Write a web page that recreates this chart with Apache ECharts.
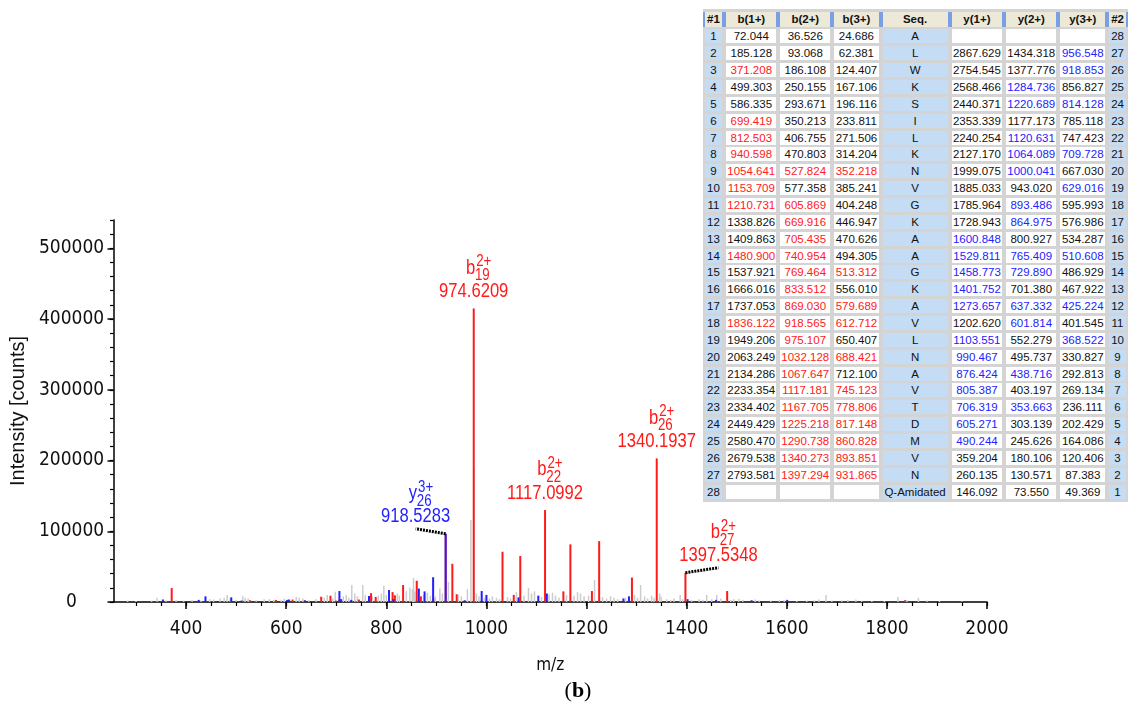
<!DOCTYPE html>
<html>
<head>
<meta charset="utf-8">
<script src="https://cdn.jsdelivr.net/npm/echarts@6.0.0/dist/echarts.min.js"></script>
<style>
  html, body { margin: 0; padding: 0; background: #fff; }
  #wrap { position: relative; width: 1128px; height: 718px; overflow: hidden; }
  #chart { position: absolute; left: 0; top: 0; width: 1128px; height: 718px; }
  #tbl {
    position: absolute; left: 703px; top: 9px; width: 425px; height: 493px;
    box-sizing: border-box; padding: 3px 0 0 1.7px; background: #d4d4d4;
    display: grid;
    grid-template-columns: 17.6px 50px 50px 44.3px 65px 50.7px 50px 45px 16.6px;
    grid-template-rows: 14.5px repeat(28, 14px);
    column-gap: 4px; row-gap: 2.87px;
    font-family: 'Liberation Sans', Arial, sans-serif; font-size: 11.5px; color: #111;
  }
  #tbl div { display: flex; align-items: center; justify-content: center; white-space: nowrap; overflow: hidden; line-height: 14px; }
  #tbl .h { background: #ece9d8; font-weight: bold; box-shadow: -2px 0 0 #7a9fe2, 2px 0 0 #7a9fe2; }
  #tbl .w { background: #fff; }
  #tbl .lb { background: #c4dcf4; }
  #tbl .r { color: #ff2020; }
  #tbl .bl { color: #2222ff; }
</style>
</head>
<body>
<div id="wrap">
  <div id="chart"></div>
  <div id="tbl"></div>
</div>
<script>
// ---- spectrum peaks [m/z, intensity] ----
// unassigned peaks (grey)
const greyPeaks = [
  [283, 2000], [300, 1500], [331, 2000], [342, 6000], [360, 2500], [380, 3000], [395, 2000],
  [412, 3000], [430, 2000], [447, 4000], [455, 3500], [468, 5000], [476, 6000], [482, 10000],
  [488, 5000], [500, 3000], [513, 8000], [518, 6000], [524, 5000], [540, 3000], [556, 4000],
  [566, 4000], [575, 3000], [590, 2500], [596, 5000], [620, 7000], [626, 6000], [633, 5000],
  [645, 3000], [660, 4000], [676, 6000], [682, 10000], [693, 5000], [698, 14500], [714, 8000],
  [720, 10000], [725, 6000], [731, 24000], [737, 12000], [742, 8000], [753, 24000], [758, 10000],
  [772, 8000], [784, 9000], [790, 12000], [795, 23000], [800, 10000], [822, 12000], [826, 9000],
  [840, 15000], [847, 20000], [852, 18000], [854.4, 34000], [857, 15000], [875, 10000],
  [882, 13000], [888, 9000], [898, 8000], [907, 19000], [912, 12000], [924, 28600], [944, 10000],
  [950, 8000], [962, 18000], [969, 116000], [975.1, 188000], [980, 12000], [985, 8000],
  [996, 6000], [1006, 5000], [1012, 8000], [1020, 6000], [1026, 4000], [1042, 7000], [1048, 5000],
  [1060, 14000], [1075, 9000], [1084, 20000], [1090, 12000], [1096, 15000], [1110, 7000],
  [1125, 11000], [1132, 13000], [1138, 9000], [1145, 6000], [1160, 10000], [1175, 9000],
  [1182, 14000], [1188, 12000], [1195, 8000], [1204, 9000], [1216, 31000], [1232, 7000],
  [1240, 5000], [1248, 8000], [1255, 6000], [1262, 4000], [1278, 6000], [1296, 10000],
  [1302, 6000], [1308, 24000], [1316, 8000], [1322, 5000], [1330, 9000], [1335, 6000],
  [1346, 12000], [1349, 7500], [1360, 4000], [1368, 3000], [1375, 5000], [1387, 10000],
  [1392, 4000], [1410, 3000], [1425, 4000], [1432, 3000], [1440, 10000], [1450, 4000],
  [1460, 10000], [1468, 5000], [1488, 3000], [1494, 4000], [1504, 4500], [1512, 3000],
  [1537, 3500], [1545, 2000], [1568, 2000], [1585, 3000], [1595, 2500], [1620, 1500],
  [1640, 2000], [1655, 2500], [1664, 3500], [1678.5, 10000], [1690, 2000], [1710, 2500],
  [1722, 3000], [1738, 3500], [1750, 2000], [1770, 1500], [1795, 1500], [1822, 7000],
  [1840, 3000], [1863, 6000], [1880, 2000], [1905, 1500], [1950, 1200]
];
// b-ion matches (red)
const bPeaks = [
  [352.2, 1500], [371.2, 19700], [513.3, 1500], [527.8, 2500], [579.7, 3000], [605.9, 2500],
  [612.7, 3500], [669.9, 7500], [688.4, 8900], [699.4, 2000], [705.4, 2500], [745.1, 3500],
  [769.5, 12500], [778.8, 7000], [812.5, 14000], [817.1, 9500], [833.5, 24000], [860.8, 30000],
  [869.0, 8000], [893.9, 5000], [918.6, 96000], [931.9, 54000], [940.6, 11000], [1032.1, 71000],
  [1054.6, 10000], [1067.6, 65000], [1153.7, 15000], [1167.7, 81500], [1210.7, 15500],
  [1225.2, 86000], [1290.7, 34500], [1480.9, 15500], [1836.1, 2500]
];
// y-ion matches (blue)
const yPeaks = [
  [353.7, 3500], [425.2, 3000], [438.7, 8000], [490.2, 6600], [510.6, 2000], [601.8, 3000],
  [605.3, 3500], [637.3, 2500], [706.3, 15500], [709.7, 4000], [729.9, 3000], [765.4, 8500],
  [805.4, 17000], [814.1, 4000], [865.0, 19000], [876.4, 15000], [893.5, 35000], [956.5, 2500],
  [990.5, 15500], [1000.0, 10000], [1064.1, 6500], [1103.6, 9000], [1120.6, 12000],
  [1273.7, 5000], [1284.7, 8000], [1401.8, 4000], [1458.8, 3000], [1529.8, 2500], [1600.8, 3000]
];
// annotated peaks
const annoMz = [974.6209, 1117.0992, 1340.1937, 1397.5348, 918.5283];
const annoInt = [415000, 130000, 203000, 41400, 96500];
const annoIon = ['b', 'b', 'b', 'b', 'y'];
const annoPos = ['19', '22', '26', '27', '26'];
const annoCharge = ['2+', '2+', '2+', '2+', '3+'];

// ---- axes ----
const xMajor = [400, 600, 800, 1000, 1200, 1400, 1600, 1800, 2000];
const xMinor = [300, 350, 400, 450, 500, 550, 600, 650, 700, 750, 800, 850, 900, 950, 1000, 1050,
  1100, 1150, 1200, 1250, 1300, 1350, 1400, 1450, 1500, 1550, 1600, 1650, 1700, 1750, 1800, 1850, 1900, 1950, 2000];
const yMajor = [0, 100000, 200000, 300000, 400000, 500000];
const yMinor = [0, 20000, 40000, 60000, 80000, 100000, 120000, 140000, 160000, 180000, 200000, 220000,
  240000, 260000, 280000, 300000, 320000, 340000, 360000, 380000, 400000, 420000, 440000, 460000,
  480000, 500000, 520000, 540000];

// ---- fragment table ----
const bIon1 = ['72.044', '185.128', '371.208', '499.303', '586.335', '699.419', '812.503', '940.598', '1054.641', '1153.709',
  '1210.731', '1338.826', '1409.863', '1480.900', '1537.921', '1666.016', '1737.053', '1836.122', '1949.206', '2063.249',
  '2134.286', '2233.354', '2334.402', '2449.429', '2580.470', '2679.538', '2793.581', ''];
const bIon2 = ['36.526', '93.068', '186.108', '250.155', '293.671', '350.213', '406.755', '470.803', '527.824', '577.358',
  '605.869', '669.916', '705.435', '740.954', '769.464', '833.512', '869.030', '918.565', '975.107', '1032.128',
  '1067.647', '1117.181', '1167.705', '1225.218', '1290.738', '1340.273', '1397.294', ''];
const bIon3 = ['24.686', '62.381', '124.407', '167.106', '196.116', '233.811', '271.506', '314.204', '352.218', '385.241',
  '404.248', '446.947', '470.626', '494.305', '513.312', '556.010', '579.689', '612.712', '650.407', '688.421',
  '712.100', '745.123', '778.806', '817.148', '860.828', '893.851', '931.865', ''];
const seqRes = ['A', 'L', 'W', 'K', 'S', 'I', 'L', 'K', 'N', 'V', 'G', 'K', 'A', 'A', 'G', 'K', 'A', 'V', 'L', 'N',
  'A', 'V', 'T', 'D', 'M', 'V', 'N', 'Q-Amidated'];
const yIon1 = ['', '2867.629', '2754.545', '2568.466', '2440.371', '2353.339', '2240.254', '2127.170', '1999.075', '1885.033',
  '1785.964', '1728.943', '1600.848', '1529.811', '1458.773', '1401.752', '1273.657', '1202.620', '1103.551', '990.467',
  '876.424', '805.387', '706.319', '605.271', '490.244', '359.204', '260.135', '146.092'];
const yIon2 = ['', '1434.318', '1377.776', '1284.736', '1220.689', '1177.173', '1120.631', '1064.089', '1000.041', '943.020',
  '893.486', '864.975', '800.927', '765.409', '729.890', '701.380', '637.332', '601.814', '552.279', '495.737',
  '438.716', '403.197', '353.663', '303.139', '245.626', '180.106', '130.571', '73.550'];
const yIon3 = ['', '956.548', '918.853', '856.827', '814.128', '785.118', '747.423', '709.728', '667.030', '629.016',
  '595.993', '576.986', '534.287', '510.608', '486.929', '467.922', '425.224', '401.545', '368.522', '330.827',
  '292.813', '269.134', '236.111', '202.429', '164.086', '120.406', '87.383', '49.369'];
// matched rows (1-based)
const b1Hit = [3, 6, 7, 8, 9, 10, 11, 14, 18];
const b2Hit = [9, 11, 12, 13, 14, 15, 16, 17, 18, 19, 20, 21, 22, 23, 24, 25, 26, 27];
const b3Hit = [9, 15, 17, 18, 20, 22, 23, 24, 25, 26, 27];
const y1Hit = [13, 14, 15, 16, 17, 19, 20, 21, 22, 23, 24, 25];
const y2Hit = [4, 5, 7, 8, 9, 11, 12, 14, 15, 17, 18, 21, 23];
const y3Hit = [2, 3, 5, 8, 10, 14, 17, 19];
const tblHeader = ['#1', 'b(1+)', 'b(2+)', 'b(3+)', 'Seq.', 'y(1+)', 'y(2+)', 'y(3+)', '#2'];

// build table
const tbl = document.getElementById('tbl');
function cell(text, cls) {
  const d = document.createElement('div');
  d.className = cls;
  d.textContent = text;
  tbl.appendChild(d);
}
tblHeader.forEach(h => cell(h, 'h'));
for (let i = 0; i < 28; i++) {
  const row = i + 1;
  cell(String(row), 'lb');
  cell(bIon1[i], 'w' + (b1Hit.includes(row) ? ' r' : ''));
  cell(bIon2[i], 'w' + (b2Hit.includes(row) ? ' r' : ''));
  cell(bIon3[i], 'w' + (b3Hit.includes(row) ? ' r' : ''));
  cell(seqRes[i], 'lb');
  cell(yIon1[i], 'w' + (y1Hit.includes(row) ? ' bl' : ''));
  cell(yIon2[i], 'w' + (y2Hit.includes(row) ? ' bl' : ''));
  cell(yIon3[i], 'w' + (y3Hit.includes(row) ? ' bl' : ''));
  cell(String(28 - i), 'lb');
}

// ---- chart ----
const RED = '#ff1a1a', BLUE = '#1f1fff', GREY = '#cccccc';
const axisFont = "'Liberation Sans Narrow', 'Arial Narrow', 'DejaVu Sans Condensed', 'Liberation Sans', sans-serif";
const labelFont = "'Liberation Sans', Arial, sans-serif";
// label leader offsets in px (others sit right above the peak)
const leaderOffset = { 3: [33, -5], 4: [-30, -5] };

function stick(color, width) {
  return function (params, api) {
    const p0 = api.coord([api.value(0), 0]);
    const p1 = api.coord([api.value(0), api.value(1)]);
    return { type: 'line', shape: { x1: p0[0], y1: p0[1], x2: p1[0], y2: p1[1] },
      style: { stroke: color, lineWidth: width } };
  };
}

function annoItem(params, api) {
  const i = params.dataIndex;
  const color = annoIon[i] === 'y' ? BLUE : RED;
  const p0 = api.coord([api.value(0), 0]);
  const p1 = api.coord([api.value(0), api.value(1)]);
  const children = [{ type: 'line', shape: { x1: p0[0], y1: p0[1], x2: p1[0], y2: p1[1] },
    style: { stroke: color, lineWidth: 2 } }];
  let cx = p1[0], nb = p1[1] - 10;
  const off = leaderOffset[i];
  if (off) {
    children.push({ type: 'line', shape: { x1: p1[0], y1: p1[1], x2: p1[0] + off[0], y2: p1[1] + off[1] },
      style: { stroke: '#000', lineWidth: 3, lineDash: [2, 1] } });
    cx = p1[0] + off[0];
    nb = p1[1] + off[1] - 5;
  }
  const sx = 0.83;
  children.push({
    type: 'group', x: cx, y: nb, scaleX: sx,
    children: [
      { type: 'text', style: { text: annoMz[i].toFixed(4), x: 0, y: -7, align: 'center', verticalAlign: 'middle',
        fontSize: 20, fontFamily: labelFont, fill: color } },
      { type: 'text', style: { text: annoIon[i], x: 1.5 / sx, y: -30.4, align: 'right', verticalAlign: 'middle',
        fontSize: 20, fontFamily: labelFont, fill: color } },
      { type: 'text', style: { text: annoCharge[i], x: 2.4 / sx, y: -36.5, align: 'left', verticalAlign: 'middle',
        fontSize: 16, fontFamily: labelFont, fill: color } },
      { type: 'text', style: { text: annoPos[i], x: 1.2 / sx, y: -22.5, align: 'left', verticalAlign: 'middle',
        fontSize: 16, fontFamily: labelFont, fill: color } }
    ]
  });
  return { type: 'group', children: children };
}

const plain = v => String(v);

const chart = echarts.init(document.getElementById('chart'), null, { renderer: 'canvas' });
chart.setOption({
  animation: false,
  backgroundColor: '#fff',
  grid: { left: 108, right: 141, top: 220, bottom: 116 },
  xAxis: [
    {
      type: 'value', min: 255, max: 2000, position: 'bottom',
      name: 'm/z', nameLocation: 'middle', nameGap: 55,
      nameTextStyle: { fontSize: 17, fontFamily: axisFont, color: '#111' },
      axisLine: { show: true, lineStyle: { color: '#000', width: 1.5 } },
      axisTick: { show: true, length: 7, customValues: xMajor, lineStyle: { color: '#000', width: 1.5 } },
      axisLabel: { customValues: xMajor, formatter: plain, margin: 18, fontSize: 19, fontFamily: axisFont, color: '#111' },
      splitLine: { show: false }
    },
    {
      type: 'value', min: 255, max: 2000, position: 'bottom', offset: 0,
      axisLine: { show: false },
      axisTick: { show: true, length: 4, customValues: xMinor, lineStyle: { color: '#000', width: 1.2 } },
      axisLabel: { show: false },
      splitLine: { show: false }
    }
  ],
  yAxis: [
    {
      type: 'value', min: 0, max: 540000, position: 'left',
      name: 'Intensity [counts]', nameLocation: 'middle', nameGap: 74,
      nameTextStyle: { fontSize: 20, fontFamily: labelFont, color: '#111' },
      axisLine: { show: true, lineStyle: { color: '#000', width: 1.5 } },
      axisTick: { show: true, length: 6, customValues: yMajor, lineStyle: { color: '#000', width: 1.5 } },
      axisLabel: { customValues: yMajor, formatter: plain, margin: 42, align: 'center', fontSize: 19,
        fontFamily: axisFont, color: '#111' },
      splitLine: { show: false }
    },
    {
      type: 'value', min: 0, max: 540000, position: 'left', offset: 0,
      axisLine: { show: false },
      axisTick: { show: true, length: 3.5, customValues: yMinor, lineStyle: { color: '#000', width: 1.2 } },
      axisLabel: { show: false },
      splitLine: { show: false }
    }
  ],
  graphic: [
    { type: 'text', x: 578, y: 691,
      style: { text: '({bb|b})', align: 'center', verticalAlign: 'middle', fontSize: 22,
        fontFamily: "'Liberation Serif', serif", fill: '#000',
        rich: { bb: { fontWeight: 'bold', fontSize: 22, fontFamily: "'Liberation Serif', serif" } } } }
  ],
  series: [
    { type: 'custom', name: 'unassigned', renderItem: stick(GREY, 1.5), data: greyPeaks, clip: true, z: 1 },
    { type: 'custom', name: 'b ions', renderItem: stick(RED, 2), data: bPeaks, clip: true, z: 2 },
    { type: 'custom', name: 'y ions', renderItem: stick(BLUE, 2), data: yPeaks, clip: true, z: 3 },
    { type: 'custom', name: 'annotated', renderItem: annoItem,
      data: annoMz.map((m, i) => [m, annoInt[i]]), z: 4 }
  ]
});
</script>
</body>
</html>
